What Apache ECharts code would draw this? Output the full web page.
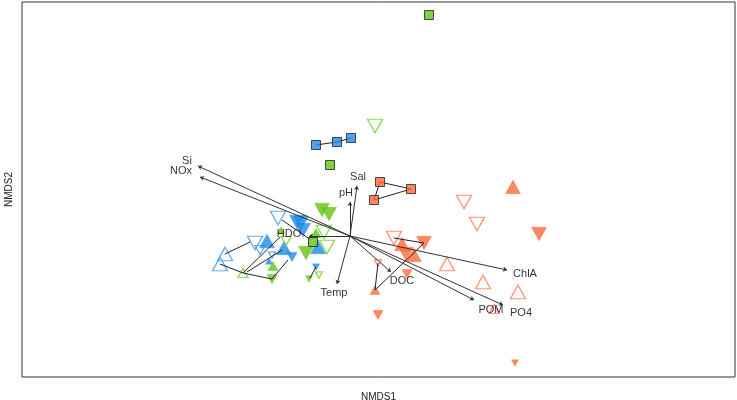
<!DOCTYPE html>
<html><head><meta charset="utf-8">
<script src="https://cdn.jsdelivr.net/npm/echarts@6/dist/echarts.min.js"></script>
<style>html,body{margin:0;padding:0;background:#fff}#c{width:737px;height:400px}</style>
</head><body><div id="c"></div>
<script>
// NMDS scores [NMDS1, NMDS2, sizeLevel]
const orangeFilledUp   = [[1.63,0.49,3],[0.52,-0.08,3],[0.64,-0.19,3],[0.25,-0.54,2]];
const orangeFilledDown = [[1.89,0.02,3],[0.74,-0.07,3],[0.56,-0.18,3],[0.57,-0.38,2],[0.28,-0.79,2],[1.65,-1.27,1]];
const orangeOpenDown   = [[1.14,0.34,3],[1.27,0.12,3],[0.44,-0.02,3],[0.28,-0.27,1]];
const orangeOpenUp     = [[0.97,-0.28,3],[1.33,-0.46,3],[1.68,-0.56,3],[1.44,-0.73,2]];
const greenOpenDown    = [[0.25,1.10,3],[-0.26,0.04,3],[-0.23,-0.11,3],[-0.31,-0.39,1],[-0.64,-0.05,2]];
const greenFilledDown  = [[-0.28,0.26,3],[-0.21,0.22,3],[-0.44,-0.17,3],[-0.78,-0.43,2],[-0.41,-0.43,1]];
const greenFilledUp    = [[-0.34,0.03,2],[-0.77,-0.30,2],[-0.69,0.06,1]];
const greenOpenUp      = [[-1.07,-0.37,2]];
const blueOpenDown     = [[-0.72,0.18,3],[-0.95,-0.07,3],[-0.90,-0.14,2],[-0.78,-0.19,1]];
const blueOpenUp       = [[-1.25,-0.18,3],[-1.30,-0.28,3]];
const blueFilledDown   = [[-0.53,0.14,3],[-0.49,0.13,3],[-0.47,0.06,3],[-0.58,-0.21,2],[-0.34,-0.31,1]];
const blueFilledUp     = [[-0.83,-0.05,3],[-0.66,-0.12,3],[-0.81,-0.25,1],[-0.32,-0.11,3]];
const greenSquares     = [[0.79,2.21],[-0.20,0.71],[-0.37,-0.06]];
const blueSquares      = [[-0.34,0.91],[-0.13,0.94],[0.01,0.98]];
const orangeSquares    = [[0.30,0.54],[0.61,0.47],[0.24,0.36]];

// group connecting segments
const groupSegments = [
  [[-1.25,-0.18],[-1.00,-0.06]],
  [[-1.30,-0.28],[-1.07,-0.37]],
  [[-1.07,-0.37],[-0.78,-0.43]],
  [[-1.07,-0.37],[-0.70,-0.01]],
  [[-1.03,-0.36],[-0.68,-0.14]],
  [[-0.78,-0.43],[-0.62,-0.24]],
  [[-0.68,0.16],[-0.39,-0.04]],
  [[-0.34,-0.31],[-0.40,-0.42]],
  [[0.44,-0.02],[0.74,-0.07]],
  [[0.74,-0.07],[0.25,-0.54]],
  [[0.28,-0.27],[0.25,-0.54]],
  [[0.30,0.54],[0.61,0.47]],
  [[0.61,0.47],[0.24,0.36]],
  [[0.24,0.36],[0.30,0.54]],
  [[-0.34,0.91],[-0.13,0.94]],
  [[-0.13,0.94],[0.01,0.98]]
];

// environmental vectors
const envNames = ['Si','NOx','Sal','pH','Temp','HDO','DOC','ChlA','POM','PO4'];
const envTips  = [[-1.52,0.70],[-1.50,0.59],[0.07,0.50],[0.00,0.34],[-0.13,-0.48],[-0.41,0.00],[0.41,-0.36],[1.57,-0.34],[1.24,-0.64],[1.53,-0.69]];
const envLabelPos = [[-1.63,0.75],[-1.69,0.65],[0.08,0.59],[-0.04,0.43],[-0.16,-0.57],[-0.61,0.02],[0.52,-0.45],[1.75,-0.38],[1.41,-0.74],[1.71,-0.77]];

const BLUE='#1E8CEB', GREEN='#62C611', ORANGE='#FF6A3C';
const levelPx = {1:7, 2:10, 3:15};

function tri(name, data, color, down, filled){
  return {
    type:'scatter', name, data, z:2,
    symbol:'triangle', symbolRotate: down?180:0,
    symbolSize: v => [levelPx[v[2]], levelPx[v[2]]*0.9],
    itemStyle: filled ? {color, borderColor:color, borderWidth:0.5}
                      : {color:'rgba(255,255,255,0)', borderColor:color, borderWidth:1.3},
    emphasis:{disabled:true}
  };
}
function sq(name, data, color){
  return {type:'scatter', name, data, z:4, symbol:'rect', symbolSize:9,
    itemStyle:{color, borderColor:'#222', borderWidth:1}, emphasis:{disabled:true}};
}

const chart = echarts.init(document.getElementById('c'), null, {renderer:'canvas'});
chart.setOption({
  animation:false,
  textStyle:{fontFamily:'Liberation Sans, Arial, sans-serif'},
  grid:{left:22, right:2, top:2, bottom:23, containLabel:false, outerBoundsMode:'none',
    show:true, borderColor:'#333', borderWidth:1, backgroundColor:'#fff'},
  xAxis:{type:'value', min:-3.28, max:3.85, name:'NMDS1', nameLocation:'middle', nameGap:15,
    nameTextStyle:{fontSize:10, color:'#222'},
    axisLine:{show:false}, axisTick:{show:false}, axisLabel:{show:false}, splitLine:{show:false}},
  yAxis:{type:'value', min:-1.41, max:2.34, name:'NMDS2', nameLocation:'middle', nameGap:8,
    nameTextStyle:{fontSize:10, color:'#222'},
    axisLine:{show:false}, axisTick:{show:false}, axisLabel:{show:false}, splitLine:{show:false}},
  series:[
    tri('blueOpenUp', blueOpenUp, '#3C9CF5', false, false),
    tri('blueOpenDown', blueOpenDown, '#3C9CF5', true, false),
    tri('blueFilledDown', blueFilledDown, BLUE, true, true),
    tri('blueFilledUp', blueFilledUp, BLUE, false, true),
    tri('greenFilledDown', greenFilledDown, GREEN, true, true),
    tri('greenFilledUp', greenFilledUp, GREEN, false, true),
    tri('greenOpenDown', greenOpenDown, '#70CF2A', true, false),
    tri('greenOpenUp', greenOpenUp, '#70CF2A', false, false),
    tri('orangeOpenDown', orangeOpenDown, '#FF7A52', true, false),
    tri('orangeOpenUp', orangeOpenUp, '#FF7A52', false, false),
    tri('orangeFilledDown', orangeFilledDown, ORANGE, true, true),
    tri('orangeFilledUp', orangeFilledUp, ORANGE, false, true),
    {type:'lines', coordinateSystem:'cartesian2d', z:3, silent:true,
      data: groupSegments.map(s=>({coords:s})),
      lineStyle:{color:'#222', width:1, opacity:1, curveness:0}},
    {type:'lines', coordinateSystem:'cartesian2d', z:3, silent:true,
      symbol:['none','arrow'], symbolSize:4,
      data: envTips.map(t=>({coords:[[0,0],t]})),
      lineStyle:{color:'#333', width:1, opacity:1, curveness:0}},
    sq('greenSquares', greenSquares, GREEN),
    sq('blueSquares', blueSquares, BLUE),
    sq('orangeSquares', orangeSquares, ORANGE),
    {type:'scatter', z:6, silent:true, symbolSize:1, itemStyle:{color:'rgba(0,0,0,0)'},
      data: envNames.map((n,i)=>({name:n, value:envLabelPos[i]})),
      label:{show:true, position:'inside', formatter:'{b}', fontSize:11, color:'#000'}}
  ]
});
</script></body></html>
